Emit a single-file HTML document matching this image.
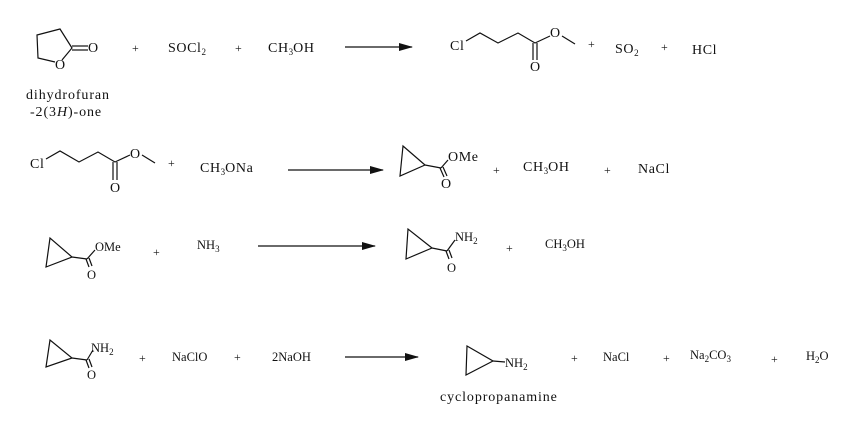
<!DOCTYPE html>
<html><head><meta charset="utf-8"><style>
html,body{margin:0;padding:0;background:#fff}
svg{display:block}
text{font-family:"Liberation Serif",serif;font-size:12.5px;fill:#111}
.w{font-size:14px;letter-spacing:0.6px}
.n{font-size:14px;letter-spacing:0.9px}
.s{font-size:9px;letter-spacing:0}
.p{font-size:12px}
</style></head><body>
<svg width="856" height="429" viewBox="0 0 856 429" xmlns="http://www.w3.org/2000/svg">
<defs><marker id="a" markerWidth="14" markerHeight="8" refX="13" refY="4" orient="auto" markerUnits="userSpaceOnUse"><path d="M0,0 L14,4 L0,8 Z" fill="#111"/></marker></defs>
<g stroke="#111" stroke-width="1.2" fill="none">
<polyline points="55,62 38,58 37,35 60,29 72,48 62,60"/>
<line x1="72" y1="46" x2="88" y2="46"/><line x1="72" y1="50" x2="88" y2="50"/>
<line x1="345" y1="47" x2="412" y2="47" marker-end="url(#a)"/>
<polyline points="466,41 480,33 498,43 518,33 535,43 550,36"/>
<polyline points="562,36 575,44"/>
<line x1="533" y1="43" x2="533" y2="60"/><line x1="537" y1="43" x2="537" y2="60"/>
<polyline points="46,159 60,151 79,162 98,152 115,162 130,155"/>
<polyline points="142,155 155,163"/>
<line x1="113" y1="162" x2="113" y2="180"/><line x1="117" y1="162" x2="117" y2="180"/>
<line x1="288" y1="170" x2="383" y2="170" marker-end="url(#a)"/>
<polygon points="403,146 400,176 425,165"/>
<line x1="425" y1="165" x2="441" y2="168"/><line x1="441" y1="168" x2="448" y2="160"/>
<line x1="440" y1="168" x2="444" y2="177"/><line x1="443" y1="167" x2="447" y2="176"/>
<polygon points="50,238 46,267 72,257"/>
<line x1="72" y1="257" x2="87" y2="259"/><line x1="87" y1="259" x2="95" y2="250"/>
<line x1="86" y1="259" x2="89" y2="267"/><line x1="89" y1="258" x2="92" y2="266"/>
<line x1="258" y1="246" x2="375" y2="246" marker-end="url(#a)"/>
<polygon points="408,229 406,259 432,248"/>
<line x1="432" y1="248" x2="447" y2="251"/><line x1="447" y1="251" x2="455" y2="240"/>
<line x1="446" y1="251" x2="449" y2="259"/><line x1="449" y1="250" x2="452" y2="258"/>
<polygon points="50,340 46,367 72,358"/>
<line x1="72" y1="358" x2="87" y2="360"/><line x1="87" y1="360" x2="93" y2="350"/>
<line x1="86" y1="360" x2="89" y2="368"/><line x1="89" y1="359" x2="92" y2="367"/>
<line x1="345" y1="357" x2="418" y2="357" marker-end="url(#a)"/>
<polygon points="467,346 466,375 493,361"/>
<line x1="493" y1="361" x2="505" y2="362"/>
</g>
<text class="w" x="55" y="69">O</text><text class="w" x="88" y="52">O</text>
<text class="n" x="26" y="99">dihydrofuran</text>
<text class="n" x="30" y="116">-2(3<tspan font-style="italic">H</tspan>)-one</text>
<text class="p" x="132" y="52">+</text>
<text class="w" x="168" y="52">SOCl<tspan class="s" dy="3">2</tspan></text>
<text class="p" x="235" y="52">+</text>
<text class="w" x="268" y="52">CH<tspan class="s" dy="3">3</tspan><tspan dy="-3">OH</tspan></text>
<text class="w" x="450" y="50">Cl</text><text class="w" x="550" y="37">O</text><text class="w" x="530" y="71">O</text>
<text class="p" x="588" y="48">+</text>
<text class="w" x="615" y="53">SO<tspan class="s" dy="3">2</tspan></text>
<text class="p" x="661" y="51">+</text>
<text class="w" x="692" y="54">HCl</text>
<text class="w" x="30" y="168">Cl</text><text class="w" x="130" y="158">O</text><text class="w" x="110" y="192">O</text>
<text class="p" x="168" y="167">+</text>
<text class="w" x="200" y="172">CH<tspan class="s" dy="3">3</tspan><tspan dy="-3">ONa</tspan></text>
<text class="w" x="448" y="161">OMe</text><text class="w" x="441" y="188">O</text>
<text class="p" x="493" y="174">+</text>
<text class="w" x="523" y="171">CH<tspan class="s" dy="3">3</tspan><tspan dy="-3">OH</tspan></text>
<text class="p" x="604" y="174">+</text>
<text class="w" x="638" y="173">NaCl</text>
<text x="95" y="251">OMe</text><text x="87" y="279">O</text>
<text class="p" x="153" y="256">+</text>
<text x="197" y="249">NH<tspan class="s" dy="3">3</tspan></text>
<text x="455" y="241">NH<tspan class="s" dy="3">2</tspan></text><text x="447" y="272">O</text>
<text class="p" x="506" y="252">+</text>
<text x="545" y="248">CH<tspan class="s" dy="3">3</tspan><tspan dy="-3">OH</tspan></text>
<text x="91" y="352">NH<tspan class="s" dy="3">2</tspan></text><text x="87" y="379">O</text>
<text class="p" x="139" y="362">+</text>
<text x="172" y="361">NaClO</text>
<text class="p" x="234" y="361">+</text>
<text x="272" y="361">2NaOH</text>
<text x="505" y="367">NH<tspan class="s" dy="3">2</tspan></text>
<text class="n" x="440" y="401">cyclopropanamine</text>
<text class="p" x="571" y="362">+</text>
<text x="603" y="361">NaCl</text>
<text class="p" x="663" y="362">+</text>
<text x="690" y="359">Na<tspan class="s" dy="3">2</tspan><tspan dy="-3">CO</tspan><tspan class="s" dy="3">3</tspan></text>
<text class="p" x="771" y="363">+</text>
<text x="806" y="360">H<tspan class="s" dy="3">2</tspan><tspan dy="-3">O</tspan></text>
</svg>
</body></html>
